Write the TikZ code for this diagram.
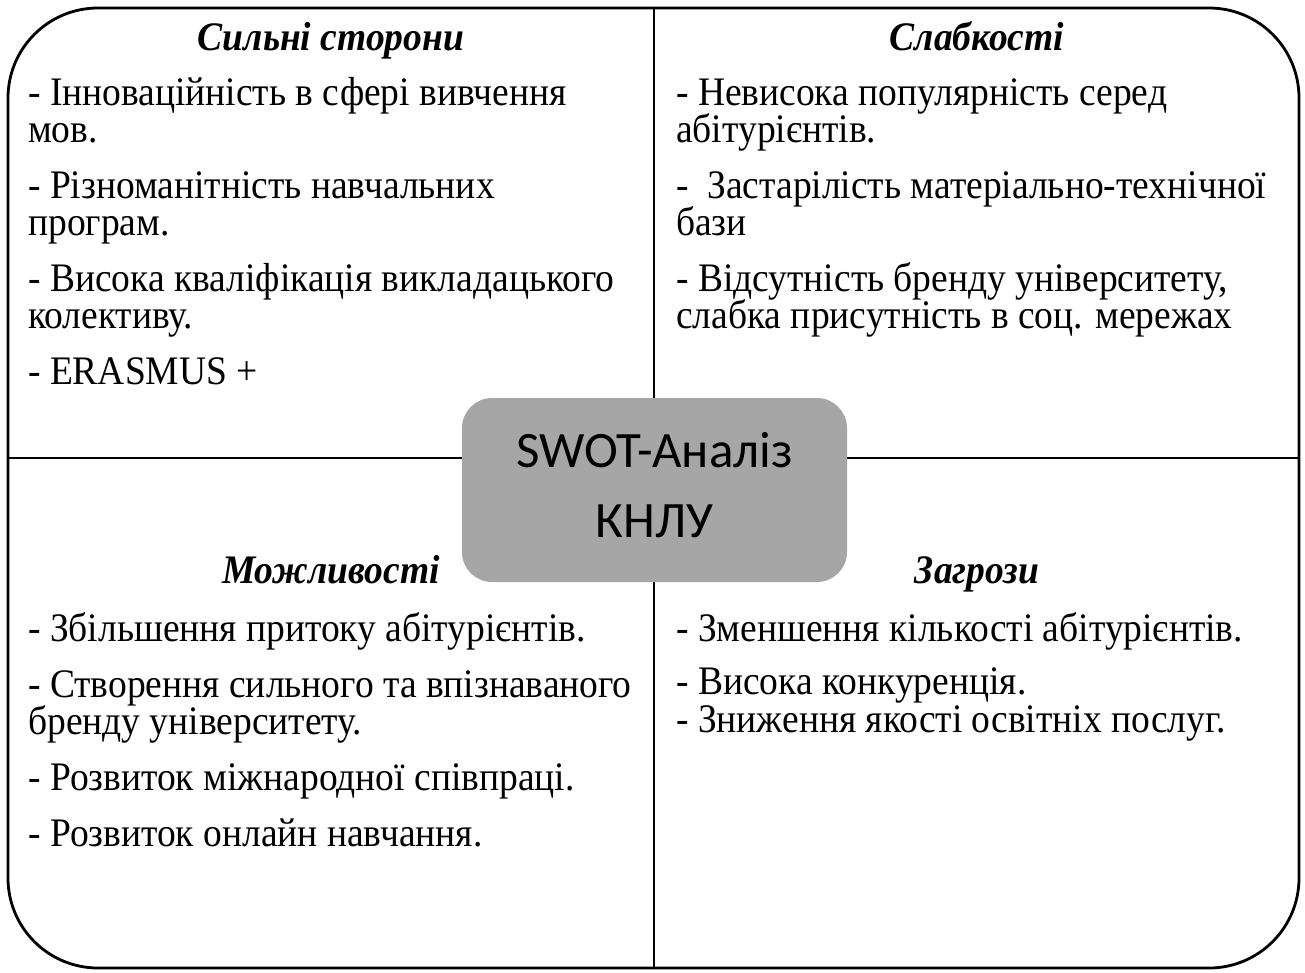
\documentclass[tikz,border=0pt]{standalone}
\usepackage{fontspec}
\setmainfont{Liberation Serif}[FakeStretch=0.926]
\newfontfamily\boxfont{Carlito}
\definecolor{boxgray}{RGB}{166,166,166}
\begin{document}
\begin{tikzpicture}[x=1pt,y=-1pt,
  frame/.style={draw=black,line width=2.8pt},
  divider/.style={draw=black,line width=2.2pt},
  item/.style={anchor=base west,inner sep=0pt,font=\fontsize{40.5}{42}\selectfont},
  heading/.style={anchor=base,inner sep=0pt,font=\fontsize{40.5}{42}\selectfont\bfseries\itshape},
  center/.style={draw=none,fill=boxgray,rounded corners=30pt,minimum width=385pt,minimum height=184pt,inner sep=0pt},
  boxtext/.style={anchor=base,inner sep=0pt,font=\boxfont\fontsize{51}{60}\selectfont}]
\useasboundingbox (0,0) rectangle (1305,972);
% outer frame and dividers
\draw[frame,rounded corners=90pt] (8,8) rectangle (1299,968);
\draw[divider] (654,8) -- (654,968);
\draw[divider] (8,458) -- (1299,458);
% centre box
\node[center] (swot) at (654.5,490) {};
\node[boxtext] (swot1) at (654.5,467) {SWOT-Аналіз};
\node[boxtext] (swot2) at (654.5,537) {КНЛУ};
% Strengths
\node[heading] (s0) at (331,50) {Сильні сторони};
\node[item] (s1) at (28,105) {- Інноваційність в сфері вивчення};
\node[item] (s2) at (28,142) {мов.};
\node[item] (s3) at (28,198) {- Різноманітність навчальних};
\node[item] (s4) at (28,235) {програм.};
\node[item] (s5) at (28,291) {- Висока кваліфікація викладацького};
\node[item] (s6) at (28,328) {колективу.};
\node[item] (s7) at (28,384) {- ERASMUS +};
% Weaknesses
\node[heading] (w0) at (977,50) {Слабкості};
\node[item] (w1) at (676,105) {- Невисока популярність серед};
\node[item] (w2) at (676,142) {абітурієнтів.};
\node[item] (w3) at (676,198) {-\ \ Застарілість матеріально-технічної};
\node[item] (w4) at (676,235) {бази};
\node[item] (w5) at (676,291) {- Відсутність бренду університету,};
\node[item] (w6) at (676,328) {слабка присутність в соц. мережах};
% Opportunities
\node[heading] (o0) at (331,583) {Можливості};
\node[item] (o1) at (28,641) {- Збільшення притоку абітурієнтів.};
\node[item] (o2) at (28,697) {- Створення сильного та впізнаваного};
\node[item] (o3) at (28,734) {бренду університету.};
\node[item] (o4) at (28,790) {- Розвиток міжнародної співпраці.};
\node[item] (o5) at (28,846) {- Розвиток онлайн навчання.};
% Threats
\node[heading] (t0) at (977,583) {Загрози};
\node[item] (t1) at (676,641) {- Зменшення кількості абітурієнтів.};
\node[item] (t2) at (676,694) {- Висока конкуренція.};
\node[item] (t3) at (676,732) {- Зниження якості освітніх послуг.};
\end{tikzpicture}
\end{document}
